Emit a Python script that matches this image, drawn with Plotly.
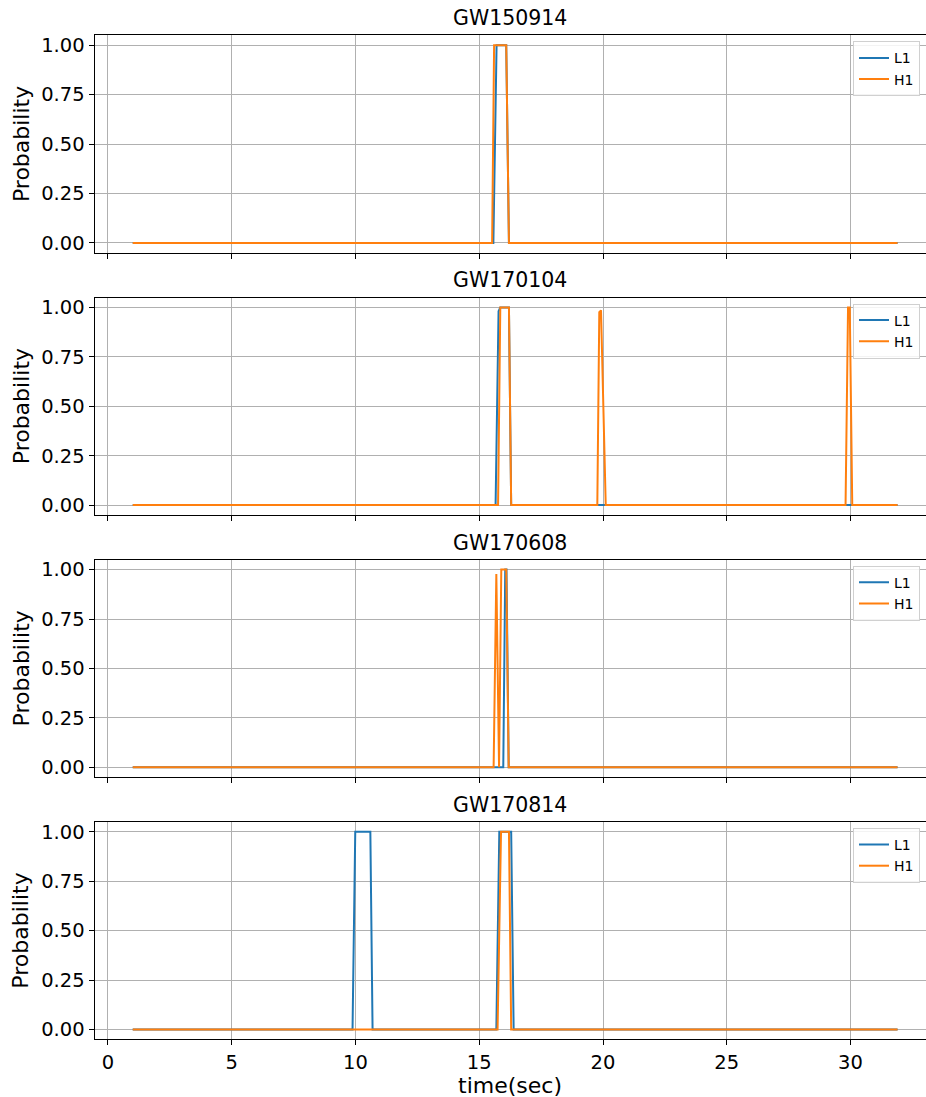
import plotly.graph_objects as go

events = ["GW150914", "GW170104", "GW170608", "GW170814"]

# times (sec) and probabilities
t_150914_L1 = [1.0, 15.57, 15.70, 16.09, 16.20, 31.9]
p_150914_L1 = [0, 0, 1, 1, 0, 0]
t_150914_H1 = [1.0, 15.52, 15.60, 16.09, 16.20, 31.9]
p_150914_H1 = [0, 0, 1, 1, 0, 0]

t_170104_L1 = [1.0, 15.66, 15.78, 15.85, 16.20, 16.29, 31.9]
p_170104_L1 = [0, 0, 0.98, 1, 1, 0, 0]
t_170104_H1 = [1.0, 15.76, 15.85, 16.20, 16.29, 19.77, 19.85, 19.92, 20.11, 29.80, 29.90, 29.97, 30.07, 31.9]
p_170104_H1 = [0, 0, 1, 1, 0, 0, 0.976, 0.985, 0, 0, 1, 1, 0, 0]

t_170608_L1 = [1.0, 15.97, 16.05, 16.10, 16.19, 31.9]
p_170608_L1 = [0, 0, 1, 1, 0, 0]
t_170608_H1 = [1.0, 15.58, 15.69, 15.77, 15.80, 15.89, 16.09, 16.19, 31.9]
p_170608_H1 = [0, 0, 0.978, 0, 0, 1, 1, 0, 0]

t_170814_L1 = [1.0, 9.88, 9.99, 10.60, 10.69, 15.69, 15.81, 16.29, 16.39, 31.9]
p_170814_L1 = [0, 0, 1, 1, 0, 0, 1, 1, 0, 0]
t_170814_H1 = [1.0, 15.74, 15.88, 16.20, 16.29, 31.9]
p_170814_H1 = [0, 0, 1, 1, 0, 0]

series = [
    (t_150914_L1, p_150914_L1, t_150914_H1, p_150914_H1),
    (t_170104_L1, p_170104_L1, t_170104_H1, p_170104_H1),
    (t_170608_L1, p_170608_L1, t_170608_H1, p_170608_H1),
    (t_170814_L1, p_170814_L1, t_170814_H1, p_170814_H1),
]

x_ticks = [0, 5, 10, 15, 20, 25, 30]
y_ticks = [0.0, 0.25, 0.5, 0.75, 1.0]
y_tick_labels = ["0.00", "0.25", "0.50", "0.75", "1.00"]

W, H = 926, 1097
FONT = "DejaVu Sans"
BLUE, ORANGE = "#1f77b4", "#ff7f0e"
TICK_FS, TITLE_FS, LABEL_FS, LEG_FS = 19.5, 20.5, 22, 14

fig = go.Figure()
x_left = 94.5 / W
top0, ph, step = 35.3, 217.5, 262.2

layout = dict(
    width=W, height=H, margin=dict(l=0, r=0, t=0, b=0, autoexpand=False),
    paper_bgcolor="white", plot_bgcolor="white",
    font=dict(family=FONT, size=TICK_FS, color="black"),
    showlegend=True,
)
annotations = []

for i, (tl, pl, th, phh) in enumerate(series):
    n = i + 1
    xa = "x" if n == 1 else f"x{n}"
    ya = "y" if n == 1 else f"y{n}"
    lg = "legend" if n == 1 else f"legend{n}"
    fig.add_trace(go.Scatter(x=tl, y=pl, mode="lines", name="L1",
                             line=dict(color=BLUE, width=2), xaxis=xa, yaxis=ya, legend=lg))
    fig.add_trace(go.Scatter(x=th, y=phh, mode="lines", name="H1",
                             line=dict(color=ORANGE, width=2), xaxis=xa, yaxis=ya, legend=lg))
    top = top0 + i * step
    bot = top + ph
    d = [1 - bot / H, 1 - top / H]
    xkey = "xaxis" if n == 1 else f"xaxis{n}"
    ykey = "yaxis" if n == 1 else f"yaxis{n}"
    layout[xkey] = dict(
        domain=[x_left, 1], anchor=ya, range=[-0.545, 33.05],
        tickvals=x_ticks, ticktext=[str(v) for v in x_ticks],
        showticklabels=(n == 4), ticks="outside", ticklen=5, tickwidth=1,
        tickcolor="black", showline=True, linecolor="black", linewidth=1,
        mirror=True, showgrid=True, gridcolor="#b0b0b0", gridwidth=1,
        zeroline=False, tickfont=dict(size=TICK_FS, family=FONT),
    )
    if n > 1:
        layout[xkey]["matches"] = "x"
    layout[ykey] = dict(
        domain=d, anchor=xa, range=[-0.05, 1.05],
        tickvals=y_ticks, ticktext=y_tick_labels,
        ticks="outside", ticklen=5, tickwidth=1, tickcolor="black",
        showline=True, linecolor="black", linewidth=1, mirror=False,
        showgrid=True, gridcolor="#b0b0b0", gridwidth=1, zeroline=False,
        tickfont=dict(size=TICK_FS, family=FONT),
    )
    layout[lg] = dict(
        x=853 / W, y=1 - (top + 6) / H, xanchor="left", yanchor="top",
        bgcolor="rgba(255,255,255,0.85)", bordercolor="#d0d0d0", borderwidth=1,
        font=dict(size=LEG_FS, family=FONT), tracegroupgap=2, itemwidth=30,
    )
    annotations.append(dict(
        text=events[i], x=(94.5 + W) / 2 / W, y=1 - (top - 3) / H,
        xref="paper", yref="paper", xanchor="center", yanchor="bottom",
        showarrow=False, font=dict(size=TITLE_FS, family=FONT),
    ))
    annotations.append(dict(
        text="Probability", x=21 / W, y=1 - (top + ph / 2) / H,
        xref="paper", yref="paper", xanchor="center", yanchor="middle",
        textangle=-90, showarrow=False, font=dict(size=LABEL_FS, family=FONT),
    ))

annotations.append(dict(
    text="time(sec)", x=(94.5 + W) / 2 / W, y=1 - 1085 / H,
    xref="paper", yref="paper", xanchor="center", yanchor="middle",
    showarrow=False, font=dict(size=LABEL_FS, family=FONT),
))
layout["annotations"] = annotations
fig.update_layout(**layout)
fig.write_html("out.html")
